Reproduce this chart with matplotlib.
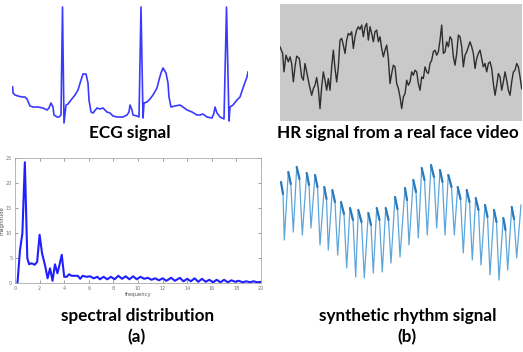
#four panel figure: ECG, face video HR signal, its spectrum and a synthetic rhythm signal
#values were read off the original picture by hand
import matplotlib
matplotlib.use("Agg")
import matplotlib.pyplot as plt

#ECG trace (sample index, amplitude)
ecg_t = [12.7, 13, 15, 18, 22, 25, 27, 30, 33, 38, 43, 47, 49, 51, 53, 54, 57, 59, 61, 62.5, 64,
	66, 68, 71, 75, 78, 81, 83, 86, 88, 89, 91, 93, 97, 100, 103, 107, 110, 113, 117, 120, 123,
	127, 129, 130, 132, 133, 137, 139, 141, 143, 144, 147, 150, 153, 157, 159, 161, 163,
	166, 168, 169, 171, 175, 180, 183, 187, 192, 197, 200, 203, 207, 212, 214, 215, 217, 220,
	224, 226.5, 229, 230, 233, 237, 240, 243, 247, 248]
ecg_v = [38, 32, 30, 29, 28, 28, 26, 19, 18, 18, 17, 15, 17, 22, 18, 10, 8, 8, 10, 118, 2,
	20, 21, 25, 30, 35, 45, 51, 51, 42, 25, 13, 12, 17, 16, 17, 13, 12, 9, 8, 8, 8,
	10, 13, 20, 15, 10, 9, 8, 118, 7, 22, 23, 26, 30, 37, 45, 52, 57,
	52, 42, 28, 18, 19, 20, 18, 15, 13, 10, 10, 11, 8, 7, 12, 18, 12, 8,
	6, 118, 4, 18, 20, 25, 28, 37, 48, 53]

#HR signal from the face video
hr_t = [0, 8, 12, 18, 25, 30, 35, 40, 45, 50, 58, 65, 70, 75, 82, 88, 95, 100, 105, 110, 115, 120,
	125, 130, 135, 140, 145, 150, 155, 160, 165, 170, 175, 180, 185, 190, 195, 200, 205, 210,
	215, 220, 225, 230, 235, 240, 245, 250, 255, 260, 265, 270, 275, 280, 285, 290, 295, 300,
	305, 310, 315, 320, 325, 330, 335, 340, 345, 350, 355, 360, 365, 370, 375, 380, 385, 390,
	395, 400, 405, 410, 415, 420, 425, 430, 435, 440, 445, 450, 455, 460, 465, 470, 475, 480,
	485, 490, 495, 500, 505, 510, 515, 520, 525, 530, 535, 540, 545, 550, 555, 560, 565, 570,
	575, 580, 585, 590, 595, 600, 605, 610, 615, 620, 625, 630, 635, 640, 645, 650, 655, 660,
	665, 670, 675, 680, 685, 690, 695, 700, 705, 710, 715, 720, 725]
hr_v = [222, 202, 147, 197, 177, 192, 172, 117, 162, 194, 187, 132, 122, 172, 137, 107, 77, 97, 107,
	130, 97, 37, 102, 147, 122, 92, 127, 92, 162, 212, 157, 117, 162, 242, 247, 227, 202, 242,
	262, 257, 267, 217, 252, 272, 282, 274, 287, 252, 282, 292, 242, 282, 262, 237, 267, 272,
	237, 252, 217, 192, 212, 227, 187, 112, 142, 167, 162, 112, 97, 72, 37, 72, 82, 122, 107,
	117, 147, 137, 152, 147, 112, 92, 132, 127, 162, 147, 142, 172, 182, 207, 212, 197, 207,
	242, 287, 202, 207, 237, 222, 252, 244, 192, 167, 202, 257, 252, 222, 162, 197, 207, 222,
	237, 222, 202, 157, 187, 202, 212, 187, 162, 172, 147, 172, 177, 157, 112, 77, 107, 142,
	132, 92, 117, 147, 122, 92, 77, 117, 147, 152, 172, 162, 132, 97]

#spectral distribution of the HR signal
spec_freq = [0.2, 0.4, 0.6, 0.8, 1.0, 1.15, 1.3, 1.45, 1.6, 1.8, 2.0, 2.2, 2.45, 2.65, 2.85, 3.05,
	3.25, 3.45, 3.6, 3.8, 4.0, 4.2, 4.4, 4.6, 4.8, 5.1, 5.3, 5.5, 5.8, 6.1, 6.4, 6.7, 6.9, 7.2,
	7.5, 7.8, 8.1, 8.4, 8.7, 9.0, 9.3, 9.6, 9.9, 10.2, 10.5, 10.8, 11.1, 11.4, 11.7, 12.0, 12.3,
	12.7, 13.0, 13.4, 13.7, 14.0, 14.3, 14.6, 14.9, 15.2, 15.5, 15.8, 16.1, 16.4, 16.7, 17.0,
	17.3, 17.6, 17.9, 18.2, 18.5, 18.8, 19.1, 19.4, 19.7, 20.0]
spec_mag = [0.0, 6.5, 10.0, 24.2, 5.0, 3.8, 4.0, 3.9, 3.7, 4.3, 9.7, 6.0, 3.5, 1.0, 3.0, 0.5,
	3.8, 2.0, 3.5, 5.7, 1.3, 1.3, 1.8, 1.5, 1.5, 1.5, 0.9, 1.5, 1.3, 1.4, 1.0, 1.3, 0.8, 1.3,
	0.8, 1.3, 0.8, 1.5, 0.9, 1.4, 0.8, 1.4, 0.8, 1.3, 0.9, 1.1, 0.7, 1.0, 0.6, 1.0, 0.5,
	1.1, 0.5, 1.1, 0.4, 0.9, 0.4, 1.0, 0.3, 0.9, 0.3, 0.7, 0.2, 0.7, 0.2, 0.7,
	0.2, 0.6, 0.3, 0.5, 0.2, 0.4, 0.2, 0.4, 0.2, 0.3]

#synthetic rhythm signal: beat top, shoulder, dip for each beat
syn_t = [1, 3, 4.3, 8.3, 10.8, 13.3, 16.7, 19.5, 22.3, 26.7, 29, 31, 35, 37.5, 40, 44.3, 46.5, 48.3,
	52.3, 55, 57.7, 61, 64, 66.7, 70, 73, 75.7, 78.3, 81.5, 84.3, 88.3, 91, 93.3, 96.7, 99.5,
	102.3, 105.7, 108.5, 111, 115, 117.5, 120, 125, 127, 129, 133.3, 136, 138.3, 141.7, 144.5,
	147.3, 151, 154, 156.7, 160, 162.5, 165, 168.3, 171.5, 174.3, 177.7, 180.5, 183.3, 186.7,
	189.5, 192.3, 195.7, 198.5, 201, 205, 207.5, 210, 214, 216.5, 219, 223.3, 225.5, 227.7,
	231.7, 234, 236.7, 241]
syn_v = [118, 106, 60, 128, 116, 68, 133, 121, 65, 127, 115, 72, 125, 113, 55, 113, 101, 50,
	110, 98, 45, 98, 86, 32, 92, 80, 23, 90, 78, 22, 87, 75, 27, 92, 80,
	28, 92, 80, 37, 103, 91, 43, 112, 100, 55, 120, 108, 62, 132, 120,
	65, 135, 123, 72, 130, 118, 65, 125, 113, 65, 113, 101, 47, 110,
	98, 40, 102, 90, 35, 95, 83, 25, 90, 78, 20, 82, 70, 30,
	93, 81, 42, 95]

W, H = 523, 352
TITLE_FONT = dict(family=["Lato", "DejaVu Sans"], fontsize=12.3, fontweight="bold", color="black")


def px_axes(fig, x0, y0, x1, y1):
	#axes from pixel box (top-left origin)
	return fig.add_axes([x0 / W, (H - y1) / H, (x1 - x0) / W, (y1 - y0) / H])


def main():
	fig = plt.figure(figsize=(W / 100, H / 100), dpi=100)
	fig.patch.set_facecolor("white")

	#ECG
	ax = px_axes(fig, 12, 5, 248, 125)
	ax.plot(ecg_t, ecg_v, color="#3a3aff", lw=1.2)
	ax.set_xlim(12, 248)
	ax.set_ylim(0, 120)
	ax.axis("off")
	fig.text(130 / W, 1 - 133 / H, "ECG signal", ha="center", va="center", **TITLE_FONT)

	#HR signal on gray background
	ax = px_axes(fig, 280, 4, 521.7, 121)
	ax.set_facecolor("#c9c9c9")
	ax.plot(hr_t, hr_v, color="#2e2e2e", lw=1.0)
	ax.set_xlim(0, 725)
	ax.set_ylim(0, 350)
	ax.set_xticks([])
	ax.set_yticks([])
	for s in ax.spines.values():
		s.set_visible(False)
	fig.text(397.5 / W, 1 - 133 / H, "HR signal from a real face video", ha="center", va="center", **TITLE_FONT)

	#spectrum, matlab like box
	ax = px_axes(fig, 15, 158.3, 261, 283.3)
	ax.plot(spec_freq, spec_mag, color="#2020ff", lw=1.5)
	ax.set_xlim(0, 20)
	ax.set_ylim(0, 25)
	ax.set_xticks(range(0, 21, 2))
	ax.set_yticks(range(0, 26, 5))
	ax.tick_params(direction="in", length=2, width=0.5, labelsize=3.5, colors="#777777",
		top=True, right=True, pad=2)
	for s in ax.spines.values():
		s.set_color("#aaaaaa")
		s.set_linewidth(0.6)
	ax.set_xlabel("frequency", fontsize=3.8, color="#555555", labelpad=1)
	ax.set_ylabel("magnitude", fontsize=3.8, color="#555555", labelpad=1)
	fig.text(138 / W, 1 - 316 / H, "spectral distribution", ha="center", va="center", **TITLE_FONT)
	fig.text(137 / W, 1 - 337 / H, "(a)", ha="center", va="center", **TITLE_FONT)

	#synthetic signal, light line with the beat tops drawn a bit heavier
	ax = px_axes(fig, 280, 155, 522, 290)
	ax.plot(syn_t, syn_v, color="#5ea5da", lw=0.9)
	for i in range(0, len(syn_t) - 1, 3):
		ax.plot(syn_t[i:i + 2], syn_v[i:i + 2], color="#2a7abd", lw=1.6, solid_capstyle="round")
	ax.set_xlim(0, 242)
	ax.set_ylim(10, 145)
	ax.axis("off")
	fig.text(408 / W, 1 - 316 / H, "synthetic rhythm signal", ha="center", va="center", **TITLE_FONT)
	fig.text(407 / W, 1 - 337 / H, "(b)", ha="center", va="center", **TITLE_FONT)

	fig.savefig("out.png", dpi=100)
	plt.close(fig)


if __name__ == "__main__":
	main()
